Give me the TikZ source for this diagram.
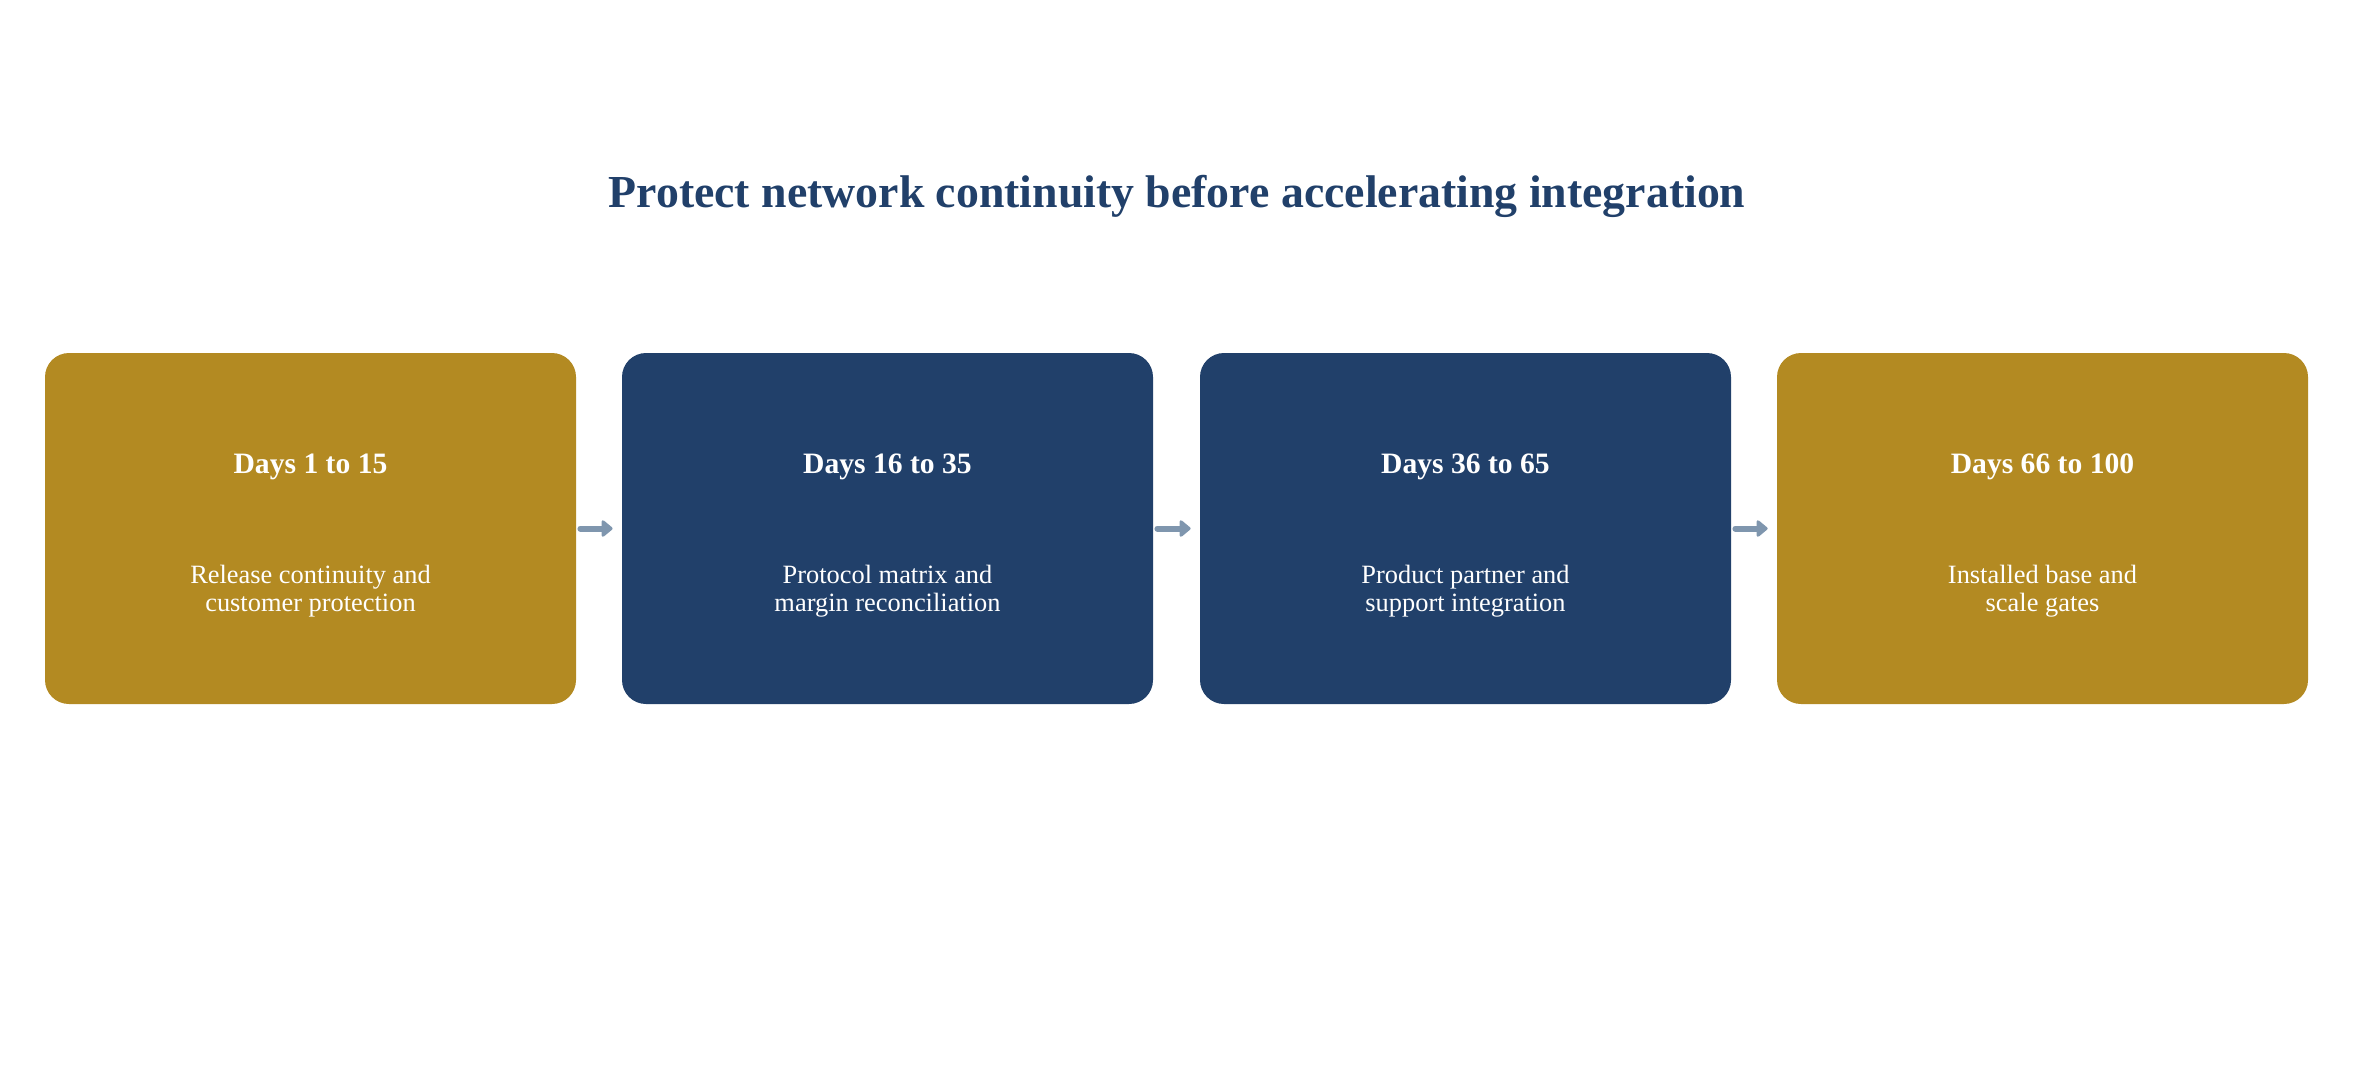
\documentclass[tikz,border=0pt]{standalone}
\usepackage{fontspec}
\setmainfont{Liberation Serif}
\usetikzlibrary{arrows.meta}
\definecolor{gold}{HTML}{B38A22}
\definecolor{navy}{HTML}{21406A}
\definecolor{arrowc}{HTML}{7F96AE}
\tikzset{
  phase/.style={rounded corners=12pt, minimum width=265.5pt, minimum height=175.5pt, inner sep=0pt, draw=none},
  head/.style={text=white, font=\fontsize{14.8}{17}\selectfont\bfseries, anchor=base},
  body/.style={text=white, font=\fontsize{13.2}{13.6}\selectfont, align=center, anchor=base},
  flow/.style={draw=arrowc, line width=3pt, line cap=round, -{Triangle[length=6pt,width=9.5pt,round]}, shorten <=2pt, shorten >=4.5pt}
}
\begin{document}
\begin{tikzpicture}[x=0.5pt,y=-0.5pt]
\useasboundingbox (0,0) rectangle (2354,1078);
\node[font=\fontsize{22.9}{26}\selectfont\bfseries, text=navy, anchor=base] (title) at (1177,207) {Protect network continuity before accelerating integration};
\node[phase, fill=gold] (b1) at (310.5,528.5) {};
\node[phase, fill=navy] (b2) at (887.5,528.5) {};
\node[phase, fill=navy] (b3) at (1465.5,528.5) {};
\node[phase, fill=gold] (b4) at (2042.5,528.5) {};
\node[head] (h1) at (310.5,473) {Days 1 to 15};
\node[head] (h2) at (887.5,473) {Days 16 to 35};
\node[head] (h3) at (1465.5,473) {Days 36 to 65};
\node[head] (h4) at (2042.5,473) {Days 66 to 100};
\node[body] (t1) at (310.5,611) {Release continuity and\\customer protection};
\node[body] (t2) at (887.5,611) {Protocol matrix and\\margin reconciliation};
\node[body] (t3) at (1465.5,611) {Product partner and\\support integration};
\node[body] (t4) at (2042.5,611) {Installed base and\\scale gates};
\draw[flow] (b1.east) -- (b2.west);
\draw[flow] (b2.east) -- (b3.west);
\draw[flow] (b3.east) -- (b4.west);
\end{tikzpicture}
\end{document}
